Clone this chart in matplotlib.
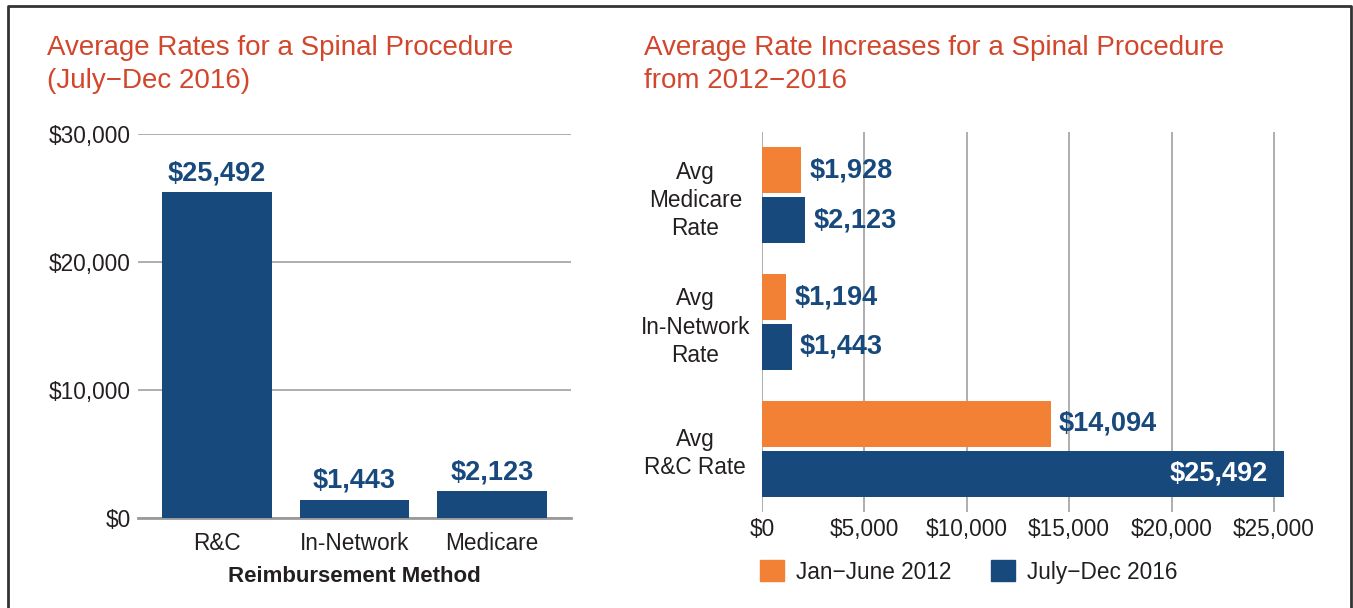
import matplotlib
matplotlib.use('Agg')
import matplotlib.pyplot as plt
import numpy as np
from matplotlib.patches import Patch
from matplotlib.lines import Line2D

plt.rcParams['font.family'] = ['Liberation Sans', 'DejaVu Sans']

# data
methods = ['R&C', 'In-Network', 'Medicare']
rates_2016 = [25492, 1443, 2123]

groups = ['Avg\nR&C Rate', 'Avg\nIn-Network\nRate', 'Avg\nMedicare\nRate']
rates_2012_h = [14094, 1194, 1928]
rates_2016_h = [25492, 1443, 2123]
series_names = ['Jan\u2212June 2012', 'July\u2212Dec 2016']

navy = '#17497d'
orange = '#f38135'
red = '#d2462c'
txt = '#231f20'
grid_c = '#a8a8a8'

W, H = 1353, 608
fig = plt.figure(figsize=(W / 100, H / 100), dpi=100)

def fx(px):
    return px / W

def fy(py):
    return 1 - py / H

# frame round the figure
fig.add_artist(Line2D([fx(8), fx(8), fx(1351), fx(1351)],
                      [fy(640), fy(6), fy(6), fy(640)],
                      color='#333333', lw=2, transform=fig.transFigure))

# titles
fig.text(fx(47), fy(35), 'Average Rates for a Spinal Procedure\n(July\u2212Dec 2016)',
         color=red, fontsize=20, va='top', ha='left', linespacing=1.33)
fig.text(fx(644), fy(35), 'Average Rate Increases for a Spinal Procedure\nfrom 2012\u22122016',
         color=red, fontsize=20, va='top', ha='left', linespacing=1.33)

# ---- left chart ----
ax1 = fig.add_axes([fx(138), fy(518), fx(571) - fx(138), fy(134) - fy(518)])
x = np.arange(len(methods))
bars = ax1.bar(x, rates_2016, width=0.8, color=navy, zorder=3)
ax1.set_xlim(-0.575, 2.575)
ax1.set_ylim(0, 30000)
ax1.set_yticks([0, 10000, 20000, 30000])
ax1.set_yticklabels(['$0', '$10,000', '$20,000', '$30,000'])
ax1.set_xticks(x)
ax1.set_xticklabels(methods)
ax1.yaxis.grid(True, color=grid_c, lw=1.3, zorder=0)
for s in ['top', 'right', 'left']:
    ax1.spines[s].set_visible(False)
ax1.spines['bottom'].set_color('#9a9a9a')
ax1.spines['bottom'].set_linewidth(2)
ax1.tick_params(axis='both', length=0, labelsize=16.3, labelcolor=txt)
ax1.tick_params(axis='y', pad=5)
ax1.tick_params(axis='x', pad=10)
ax1.set_xlabel('Reimbursement Method', fontsize=16, fontweight='bold', color=txt, labelpad=8)
for b, v in zip(bars, rates_2016):
    ax1.annotate(f'${v:,}', (b.get_x() + b.get_width() / 2, v), xytext=(0, 4),
                 textcoords='offset points', ha='center', va='bottom',
                 fontsize=19.5, fontweight='bold', color=navy)

# ---- right chart ----
ax2 = fig.add_axes([fx(762), fy(512), fx(1300) - fx(762), fy(132) - fy(512)])
y = np.arange(len(groups))
h = 0.363
off = 0.197
b12 = ax2.barh(y + off, rates_2012_h, height=h, color=orange, zorder=3, label=series_names[0])
b16 = ax2.barh(y - off, rates_2016_h, height=h, color=navy, zorder=3, label=series_names[1])
ax2.set_ylim(-0.5, 2.5)
ax2.set_xlim(0, 26270)
ax2.set_xticks([0, 5000, 10000, 15000, 20000, 25000])
ax2.set_xticklabels(['$0', '$5,000', '$10,000', '$15,000', '$20,000', '$25,000'])
ax2.set_yticks(y)
ax2.set_yticklabels(groups, ha='center', linespacing=1.28)
ax2.xaxis.grid(True, color=grid_c, lw=1.3, zorder=0)
for s in ['top', 'right', 'left', 'bottom']:
    ax2.spines[s].set_visible(False)
ax2.tick_params(axis='both', length=0, labelsize=16.3, labelcolor=txt)
ax2.tick_params(axis='x', pad=4)
ax2.tick_params(axis='y', pad=48)

for bs, vals in [(b12, rates_2012_h), (b16, rates_2016_h)]:
    for b, v in zip(bs, vals):
        yc = b.get_y() + b.get_height() / 2
        if v > 20000:
            ax2.annotate(f'${v:,}', (v, yc), xytext=(-12, 0), textcoords='offset points',
                         ha='right', va='center', fontsize=19.5, fontweight='bold', color='white')
        else:
            ax2.annotate(f'${v:,}', (v, yc), xytext=(6, 0), textcoords='offset points',
                         ha='left', va='center', fontsize=19.5, fontweight='bold', color=navy)

handles = [Patch(color=orange), Patch(color=navy)]
fig.legend(handles, series_names, loc='center left', bbox_to_anchor=(fx(760), fy(572)),
           frameon=False, ncol=2, fontsize=16.3, handlelength=1.05, handleheight=1.05,
           handletextpad=0.55, columnspacing=1.75, borderpad=0, borderaxespad=0,
           labelcolor=txt)

fig.savefig('out.png', dpi=100)
